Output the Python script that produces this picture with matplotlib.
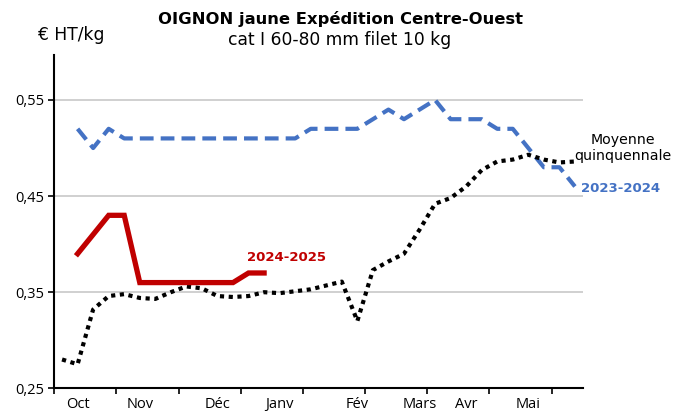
import matplotlib
matplotlib.use("Agg")
import matplotlib.pyplot as plt
import numpy as np

plt.rcParams['font.family'] = ['Open Sans', 'DejaVu Sans']

#---Data (weekly categories, Oct -> end of May)---
n_weeks = 34
moyenne = [0.280, 0.275, 0.332, 0.346, 0.348, 0.344, 0.343, 0.350, 0.356, 0.354,
           0.346, 0.345, 0.346, 0.350, 0.349, 0.351, 0.353, 0.357, 0.361, 0.320,
           0.373, 0.382, 0.390, 0.415, 0.442, 0.448, 0.460, 0.477, 0.486, 0.488,
           0.493, 0.488, 0.485, 0.486]
prix_2324 = [0.52, 0.50, 0.52, 0.51, 0.51, 0.51, 0.51, 0.51, 0.51, 0.51,
             0.51, 0.51, 0.51, 0.51, 0.51, 0.52, 0.52, 0.52, 0.52, 0.53,
             0.54, 0.53, 0.54, 0.55, 0.53, 0.53, 0.53, 0.52, 0.52, 0.50,
             0.48, 0.48, 0.46]
prix_2425 = [0.39, 0.41, 0.43, 0.43, 0.36, 0.36, 0.36, 0.36, 0.36, 0.36,
             0.36, 0.37, 0.37]
mois = ['Oct', 'Nov', 'Déc', 'Janv', 'Fév', 'Mars', 'Avr', 'Mai']
mois_pos = [1, 5, 10, 14, 19, 23, 26, 30]
yticks = [0.25, 0.35, 0.45, 0.55]

#---Figure---
fig = plt.figure(figsize=(6.76, 4.12), dpi=100)
ax = fig.add_axes([0.0803, 0.0575, 0.7817, 0.809])

x_moy = np.arange(len(moyenne))
x_23 = np.arange(1, 1 + len(prix_2324))
x_24 = np.arange(1, 1 + len(prix_2425))

ax.plot(x_moy, moyenne, color='black', linewidth=3, linestyle=(0, (1, 1.1)), zorder=3)
ax.plot(x_23, prix_2324, color='#4472C4', linewidth=3, linestyle=(0, (3.3, 1.7)), zorder=2)
ax.plot(x_24, prix_2425, color='#C00000', linewidth=3.8, solid_joinstyle='miter', zorder=4)

#---Axes---
ax.set_xlim(-0.5, n_weeks - 0.5)
ax.set_ylim(0.25, 0.5968)
ax.set_yticks(yticks)
ax.set_yticklabels([('%.2f' % v).replace('.', ',') for v in yticks], fontsize=10.5)
ax.yaxis.grid(True, color='#c8c8c8', linewidth=1.2)
ax.set_axisbelow(True)

ax.set_xticks(np.arange(-0.5, n_weeks, 4))
ax.set_xticklabels([])
ax.set_xticks(mois_pos, minor=True)
ax.set_xticklabels(mois, minor=True, fontsize=10.5)
ax.tick_params(axis='x', which='major', length=4, width=1.2, direction='out')
ax.tick_params(axis='x', which='minor', length=0, pad=6)
ax.tick_params(axis='y', length=4, width=1.2, pad=3)

for s in ['top', 'right']:
    ax.spines[s].set_visible(False)
for s in ['left', 'bottom']:
    ax.spines[s].set_linewidth(1.5)

#---Texts---
wide = ['DejaVu Sans']
fig.text(0.503, 0.955, 'OIGNON jaune Expédition Centre-Ouest', ha='center', va='center',
         fontsize=11.8, fontweight='bold', family=wide)
fig.text(0.503, 0.902, 'cat I 60-80 mm filet 10 kg', ha='center', va='center',
         fontsize=12.3, family=wide)
fig.text(0.056, 0.915, '€ HT/kg', ha='left', va='center', fontsize=12.3, family=wide)

ax.text(11.9, 0.386, '2024-2025', color='#C00000', fontsize=9.5, fontweight='bold',
        ha='left', va='center', family=wide)
ax.text(33.4, 0.4584, '2023-2024', color='#4472C4', fontsize=9.5, fontweight='bold',
        ha='left', va='center', clip_on=False, family=wide)
ax.text(36.1, 0.5, 'Moyenne\nquinquennale', color='black', fontsize=10.2,
        ha='center', va='center', linespacing=1.2, clip_on=False, family=wide)

fig.savefig('out.png', dpi=100)
